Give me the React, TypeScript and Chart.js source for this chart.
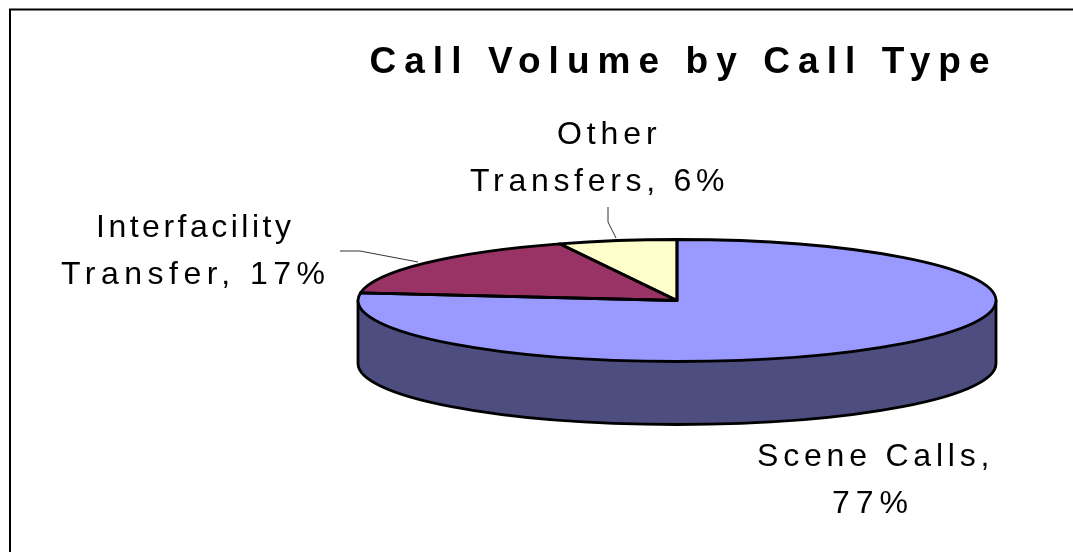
import { useEffect, useRef } from "react";
import { Chart, registerables } from "chart.js";

Chart.register(...registerables);

const categories = ["Scene Calls", "Interfacility Transfer", "Other Transfers"];
const shares = [77, 17, 6];
const sliceColors = ["#9999FF", "#993366", "#FFFFCC"];
const wallColor = "#4D4D80";
const titleText = "Call Volume by Call Type";
const labelLines = [
  ["Scene Calls,", "77%"],
  ["Interfacility", "Transfer, 17%"],
  ["Other", "Transfers, 6%"],
];
// left edge and first baseline of each label line, relative to the pie centre, in px
const labelLefts = [
  [80, 155],
  [-581, -616],
  [-120, -207],
];
const labelBaselines = [165.5, -63.5, -156.5];
const labelSpacings = [
  [4.8, 6],
  [3.5, 5.5],
  [4.9, 4.7],
];
const leaderLines: (number[][] | null)[] = [
  null,
  [[-337, -49.5], [-317, -49.5], [-259, -38.5]],
  [[-69, -93.5], [-69, -78.5], [-61, -62.5]],
];

const RX = 319;
const RY = 61;
const DEPTH = 63;
const STROKE = 2.8;
const FONT = '"Liberation Sans", Arial, sans-serif';

const piePlugin = {
  id: "flatPie",
  afterLayout(chart: any) {
    // the title spans the frame, so that it is not squeezed into the pie's box
    chart.titleBlock.left = 294;
    chart.titleBlock.right = 1073;
  },
  beforeDraw(chart: any) {
    const { ctx, width, height } = chart;
    ctx.save();
    ctx.fillStyle = "#fff";
    ctx.fillRect(0, 0, width, height);
    ctx.strokeStyle = "#000";
    ctx.lineWidth = 2;
    ctx.beginPath();
    ctx.moveTo(10, height + 4);
    ctx.lineTo(10, 9.5);
    ctx.lineTo(width + 4, 9.5);
    ctx.stroke();
    ctx.restore();
    ctx.letterSpacing = "8.07px";
  },
  beforeDatasetsDraw(chart: any) {
    const { ctx } = chart;
    ctx.letterSpacing = "0px";
    const arc = chart.getDatasetMeta(0).data[0];
    const { x, y, outerRadius: r } = arc;
    const sx = RX / r;
    const sy = RY / r;
    // side wall
    ctx.save();
    ctx.beginPath();
    ctx.moveTo(x - RX, y);
    ctx.lineTo(x - RX, y + DEPTH);
    ctx.ellipse(x, y + DEPTH, RX, RY, 0, Math.PI, 0, true);
    ctx.lineTo(x + RX, y);
    ctx.closePath();
    ctx.fillStyle = wallColor;
    ctx.fill();
    ctx.strokeStyle = "#000";
    ctx.lineWidth = STROKE;
    ctx.lineJoin = "round";
    ctx.stroke();
    ctx.restore();
    ctx.save();
    ctx.translate(x, y);
    ctx.scale(sx, sy);
    ctx.translate(-x, -y);
  },
  afterDatasetsDraw(chart: any) {
    const { ctx } = chart;
    ctx.restore();
    const meta = chart.getDatasetMeta(0);
    ctx.save();
    ctx.strokeStyle = "#000";
    ctx.lineWidth = STROKE;
    ctx.lineJoin = "round";
    meta.data.forEach((arc: any) => {
      const { x, y, outerRadius: r, startAngle, endAngle } = arc;
      ctx.save();
      ctx.translate(x, y);
      ctx.scale(RX / r, RY / r);
      ctx.beginPath();
      ctx.moveTo(0, 0);
      ctx.arc(0, 0, r, startAngle, endAngle);
      ctx.closePath();
      ctx.restore();
      ctx.stroke();
    });
    ctx.restore();
  },
  afterDraw(chart: any) {
    const { ctx } = chart;
    const { x, y } = chart.getDatasetMeta(0).data[0];
    ctx.save();
    ctx.strokeStyle = "#333";
    ctx.lineWidth = 1;
    leaderLines.forEach((pts) => {
      if (!pts) return;
      ctx.beginPath();
      pts.forEach((p, i) => (i ? ctx.lineTo(x + p[0], y + p[1]) : ctx.moveTo(x + p[0], y + p[1])));
      ctx.stroke();
    });
    ctx.fillStyle = "#000";
    ctx.font = `32px ${FONT}`;
    ctx.textAlign = "left";
    ctx.textBaseline = "alphabetic";
    labelLines.forEach((lines, i) => {
      lines.forEach((t, j) => {
        ctx.letterSpacing = `${labelSpacings[i][j]}px`;
        ctx.fillText(t, x + labelLefts[i][j], y + labelBaselines[i] + j * 47);
      });
    });
    ctx.restore();
    ctx.letterSpacing = "0px";
  },
};

export default function App() {
  const ref = useRef<HTMLCanvasElement>(null);
  useEffect(() => {
    document.body.style.margin = "0";
    const chart = new Chart(ref.current!, {
      type: "pie",
      data: {
        labels: categories,
        datasets: [
          { data: shares, backgroundColor: sliceColors, borderWidth: 0 },
        ],
      },
      options: {
        animation: false,
        responsive: false,
        layout: { padding: { left: 425, right: 144, top: 0, bottom: 36.4 } },
        plugins: {
          legend: { display: false },
          tooltip: { enabled: false },
          title: {
            display: true,
            text: titleText,
            color: "#000",
            font: { family: FONT, size: 37, weight: "bold" },
            padding: { top: 41, bottom: 0 },
          },
        },
      },
      plugins: [piePlugin],
    } as any);
    return () => chart.destroy();
  }, []);
  return <canvas ref={ref} width={1073} height={552} style={{ display: "block" }} />;
}
